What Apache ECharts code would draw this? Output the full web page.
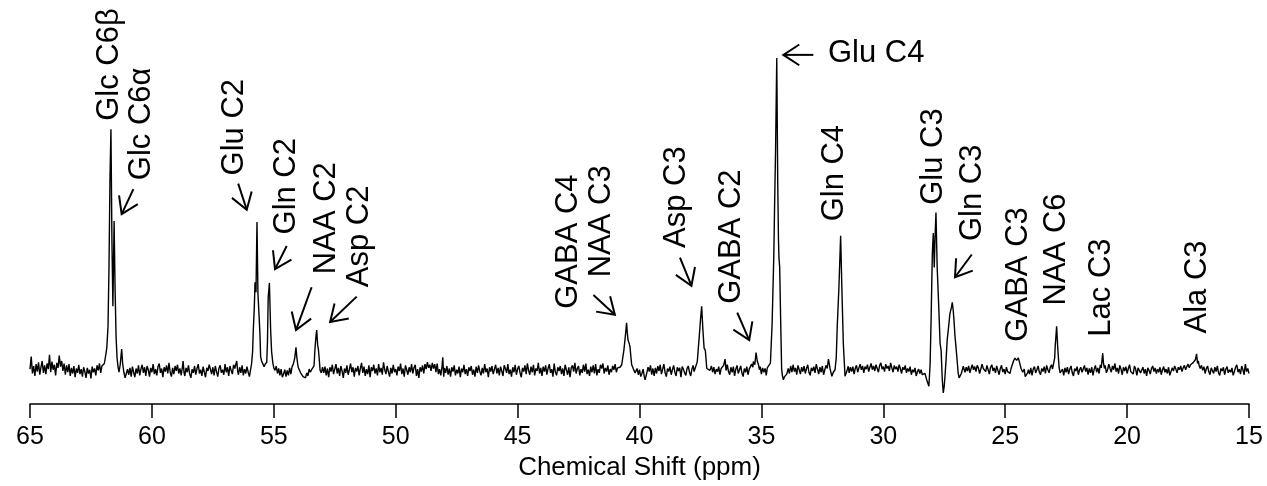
<!DOCTYPE html>
<html>
<head>
<meta charset="utf-8">
<script src="https://cdn.jsdelivr.net/npm/echarts@6/dist/echarts.min.js"></script>
<style>
html,body{margin:0;padding:0;background:#fff;}
#chart{width:1267px;height:486px;}
</style>
</head>
<body>
<div id="chart"></div>
<script>
// ---- Spectrum data: [chemical shift (ppm), intensity (a.u., Glu C4 = 1000)] ----
const specGlc = [
[65.0,4],[64.95,44],[64.9,-10],[64.85,14],[64.8,-18],[64.75,20],[64.7,-4],[64.65,26],[64.6,-14],[64.55,10],
[64.5,30],[64.45,-8],[64.4,16],[64.35,-12],[64.3,22],[64.25,4],[64.2,50],[64.15,-6],[64.1,28],[64.05,2],
[64.0,18],[63.95,-16],[63.9,24],[63.85,8],[63.8,47],[63.75,12],[63.7,30],[63.65,-2],[63.6,22],[63.55,-14],
[63.5,16],[63.45,-6],[63.4,20],[63.35,-18],[63.3,8],[63.25,-10],[63.2,14],[63.15,-22],[63.1,6],[63.05,-8],
[63.0,18],[62.95,-12],[62.9,4],[62.85,-20],[62.8,10],[62.75,-4],[62.7,-24],[62.65,8],[62.6,-10],[62.55,2],
[62.5,-26],[62.45,12],[62.4,-6],[62.35,6],[62.3,-16],[62.25,16],[62.2,0],[62.15,22],[62.1,-8],[62.05,14],
[62.0,20],[61.95,22],[61.9,46],[61.85,72],[61.8,140],[61.76,330],[61.72,610],[61.68,772],[61.64,420],[61.6,205],
[61.55,478],[61.51,260],[61.47,110],[61.43,40],[61.39,12],[61.35,-6],[61.3,18],[61.24,68],[61.2,22],[61.15,-6],
[61.1,-24],[61.05,-10],[61.0,4]
];
const spec61to56 = [
[60.95,-14],[60.9,8],[60.85,-20],[60.8,12],[60.75,-6],[60.7,-22],[60.65,6],[60.6,-10],[60.55,16],[60.5,-16],
[60.45,4],[60.4,18],[60.35,-8],[60.3,10],[60.25,-18],[60.2,14],[60.15,2],[60.1,-20],[60.05,8],[60.0,-6],
[59.95,20],[59.9,-12],[59.85,4],[59.8,-16],[59.75,12],[59.7,22],[59.65,-8],[59.6,6],[59.55,-22],[59.5,10],
[59.45,-4],[59.4,16],[59.35,-10],[59.3,24],[59.25,-6],[59.2,-20],[59.15,8],[59.1,-12],[59.05,14],[59.0,-2],
[58.95,18],[58.9,-10],[58.85,6],[58.8,-16],[58.75,10],[58.72,30],[58.68,-8],[58.65,-18],[58.6,8],[58.55,-6],
[58.5,16],[58.45,-12],[58.4,-24],[58.35,4],[58.3,-8],[58.25,14],[58.2,-14],[58.15,6],[58.1,20],[58.05,-10],
[58.0,2],[57.95,-18],[57.9,12],[57.85,-6],[57.8,-22],[57.75,8],[57.7,-2],[57.65,18],[57.6,4],[57.55,-12],
[57.5,10],[57.45,-16],[57.4,14],[57.35,-4],[57.3,-20],[57.25,6],[57.2,16],[57.15,-8],[57.1,2],[57.05,-14],
[57.0,20],[56.95,-6],[56.9,10],[56.85,-18],[56.8,14],[56.75,0],[56.7,-12],[56.65,18],[56.6,6],[56.55,22],
[56.52,30],[56.48,-4],[56.45,-14],[56.4,10],[56.35,-8],[56.3,16],[56.25,-16],[56.2,4],[56.15,-10],[56.1,12],
[56.05,-6],[56.0,-20]
];
const specGluGlnNaaAsp = [
[55.95,-20],[55.91,22],[55.87,60],[55.84,130],[55.8,200],[55.77,282],[55.73,250],[55.69,475],[55.65,245],[55.61,250],
[55.57,120],[55.54,44],[55.5,30],[55.45,36],[55.4,12],[55.36,19],[55.32,14],[55.29,26],[55.26,90],[55.23,234],
[55.18,280],[55.13,130],[55.09,60],[55.04,24],[55.0,8],[54.95,0],[54.9,14],[54.85,-10],[54.8,6],[54.75,-16],
[54.7,4],[54.65,-22],[54.6,-12],[54.55,2],[54.5,-20],[54.45,0],[54.4,-16],[54.35,8],[54.3,-12],[54.25,12],
[54.2,20],[54.14,40],[54.11,60],[54.09,74],[54.06,45],[54.02,20],[54.0,10],[53.95,16],[53.9,-8],[53.85,-2],
[53.8,-20],[53.75,-14],[53.7,-24],[53.65,-8],[53.6,-18],[53.55,4],[53.5,-6],[53.45,2],[53.4,-4],[53.35,14],
[53.31,70],[53.27,110],[53.24,129],[53.2,80],[53.17,67],[53.13,30],[53.1,0],[53.05,-8],[53.0,10]
];
const spec53to41 = [
[52.95,-8],[52.9,12],[52.85,-16],[52.8,6],[52.75,-22],[52.7,10],[52.65,-4],[52.6,18],[52.55,-12],[52.5,4],
[52.45,20],[52.4,-10],[52.35,8],[52.3,-18],[52.25,14],[52.2,-2],[52.15,-24],[52.1,6],[52.05,-8],[52.0,16],
[51.95,-14],[51.9,2],[51.85,22],[51.8,-6],[51.75,10],[51.7,-20],[51.65,8],[51.6,-4],[51.55,14],[51.5,-16],
[51.45,6],[51.4,24],[51.35,-8],[51.3,12],[51.25,-18],[51.2,4],[51.15,-12],[51.1,16],[51.05,-22],[51.0,10],
[50.95,-2],[50.9,18],[50.85,-10],[50.8,6],[50.75,-16],[50.7,20],[50.65,-6],[50.6,8],[50.55,-14],[50.5,26],
[50.45,2],[50.4,-12],[50.35,14],[50.3,-4],[50.25,-20],[50.2,8],[50.15,-10],[50.1,18],[50.05,-6],[50.0,4],
[49.95,-16],[49.9,12],[49.85,-2],[49.8,22],[49.75,-12],[49.7,6],[49.65,-20],[49.6,16],[49.55,2],[49.5,-14],
[49.45,10],[49.4,-6],[49.35,20],[49.3,-10],[49.25,8],[49.2,18],[49.15,-18],[49.1,4],[49.05,-24],[49.0,10],
[48.95,-4],[48.9,16],[48.85,-10],[48.8,20],[48.75,4],[48.7,26],[48.65,8],[48.6,18],[48.55,-2],[48.5,24],
[48.45,6],[48.4,20],[48.35,-6],[48.3,22],[48.25,-12],[48.2,4],[48.15,-16],[48.1,12],[48.07,42],[48.03,-20],
[48.0,8],[47.95,-8],[47.9,14],[47.85,-14],[47.8,6],[47.75,-20],[47.7,10],[47.65,-4],[47.6,16],[47.55,-16],
[47.5,2],[47.45,-10],[47.4,12],[47.35,-22],[47.3,6],[47.25,-6],[47.2,18],[47.15,-12],[47.1,4],[47.05,-18],
[47.0,10],[46.95,-2],[46.9,14],[46.85,-14],[46.8,2],[46.75,-20],[46.7,12],[46.65,-8],[46.6,16],[46.55,-4],
[46.5,-16],[46.45,8],[46.4,-10],[46.35,20],[46.3,-6],[46.25,6],[46.2,-22],[46.15,10],[46.1,-4],[46.05,14],
[46.0,-12],[45.95,4],[45.9,18],[45.85,-10],[45.8,8],[45.75,-16],[45.7,12],[45.65,-2],[45.6,-18],[45.55,16],
[45.5,6],[45.45,-8],[45.4,20],[45.35,-12],[45.3,2],[45.25,-20],[45.2,10],[45.15,-6],[45.1,18],[45.05,-14],
[45.0,4],[44.95,14],[44.9,-8],[44.85,-22],[44.8,8],[44.75,-4],[44.7,16],[44.65,-12],[44.6,22],[44.55,0],
[44.5,-14],[44.45,12],[44.4,-6],[44.35,18],[44.3,-16],[44.25,6],[44.2,-2],[44.15,24],[44.1,-10],[44.05,8],
[44.0,-18],[43.95,12],[43.9,-4],[43.85,16],[43.8,-14],[43.75,6],[43.7,20],[43.65,-8],[43.6,4],[43.55,-20],
[43.5,22],[43.45,-6],[43.4,-16],[43.35,10],[43.3,-2],[43.25,14],[43.2,-12],[43.15,6],[43.1,-18],[43.05,18],
[43.0,2],[42.95,-14],[42.9,10],[42.85,-22],[42.8,8],[42.75,16],[42.7,-4],[42.65,24],[42.6,-10],[42.55,6],
[42.5,14],[42.45,-16],[42.4,4],[42.35,-8],[42.3,18],[42.25,-4],[42.2,22],[42.15,-12],[42.1,2],[42.05,-18],
[42.0,12],[41.95,-6],[41.9,16],[41.85,-10],[41.8,20],[41.75,-16],[41.7,4],[41.65,-8],[41.6,18],[41.55,6],
[41.5,22],[41.45,-10],[41.4,8],[41.35,-4],[41.3,16],[41.25,-14],[41.2,4],[41.15,-6],[41.1,14],[41.05,2],
[41.0,20],[40.95,-6],[40.9,8]
];
const specGabaAspGlu = [
[40.87,2],[40.8,10],[40.73,18],[40.64,65],[40.58,110],[40.53,152],[40.5,120],[40.47,97],[40.43,88],[40.39,76],
[40.35,40],[40.32,18],[40.25,4],[40.18,-8],[40.1,6],[40.05,-14],[40.0,2],[39.95,-20],[39.9,-10],[39.85,4],
[39.8,-22],[39.77,-30],[39.7,-8],[39.65,10],[39.6,-4],[39.55,16],[39.5,-14],[39.45,6],[39.4,-18],[39.35,8],
[39.3,-10],[39.25,14],[39.2,-2],[39.15,18],[39.1,-12],[39.05,4],[39.0,20],[38.95,-8],[38.9,-20],[38.85,6],
[38.8,-4],[38.75,12],[38.7,-14],[38.65,2],[38.6,16],[38.55,-6],[38.5,-18],[38.45,10],[38.4,-2],[38.35,8],
[38.3,-22],[38.25,12],[38.2,4],[38.15,-8],[38.1,-16],[38.05,6],[38.0,14],[37.95,-6],[37.9,-18],[37.85,4],
[37.8,16],[37.76,-4],[37.72,2],[37.63,28],[37.55,108],[37.5,160],[37.45,205],[37.4,130],[37.35,71],[37.3,64],
[37.24,6],[37.18,10],[37.11,0],[37.05,14],[37.0,-6],[36.95,10],[36.9,-12],[36.85,4],[36.8,-4],[36.75,12],
[36.7,-14],[36.65,6],[36.6,2],[36.55,16],[36.49,36],[36.45,0],[36.4,18],[36.35,-4],[36.3,-14],[36.25,10],
[36.2,-6],[36.15,12],[36.1,-18],[36.05,4],[36.0,16],[35.95,-10],[35.9,2],[35.85,14],[35.8,-8],[35.75,-20],
[35.7,6],[35.65,-6],[35.6,12],[35.55,-14],[35.5,4],[35.45,8],[35.4,20],[35.35,10],[35.33,28],[35.27,18],
[35.22,57],[35.17,30],[35.12,18],[35.08,2],[35.05,12],[35.0,-12],[34.95,8],[34.9,-6],[34.85,6],[34.8,-16],
[34.76,8],[34.72,2],[34.63,23],[34.56,150],[34.49,371],[34.46,521],[34.42,700],[34.37,1000],[34.33,600],[34.3,420],
[34.28,360],[34.25,330],[34.21,160],[34.17,5],[34.14,-16],[34.1,-30],[34.05,-20],[33.96,-12]
];
const specGlnGlu = [
[33.9,6],[33.85,-10],[33.8,14],[33.75,-6],[33.7,18],[33.65,-4],[33.6,8],[33.55,-14],[33.5,16],[33.45,2],
[33.4,-12],[33.35,10],[33.3,-4],[33.25,14],[33.2,-10],[33.15,6],[33.1,18],[33.05,-6],[33.0,-16],[32.95,8],
[32.9,-2],[32.85,12],[32.8,-8],[32.75,20],[32.7,4],[32.65,-12],[32.6,10],[32.55,-6],[32.5,14],[32.45,-14],
[32.4,2],[32.35,16],[32.3,6],[32.25,36],[32.18,4],[32.11,-19],[32.05,-6],[31.98,2],[31.93,40],[31.89,139],
[31.82,266],[31.75,431],[31.69,234],[31.64,86],[31.57,-19],[31.5,-4],[31.44,13],[31.4,-8],[31.35,10],[31.3,-4],
[31.25,12],[31.2,-12],[31.15,6],[31.1,16],[31.05,-6],[31.0,8],[30.95,20],[30.9,2],[30.85,14],[30.8,-8],
[30.75,12],[30.7,4],[30.65,18],[30.6,-4],[30.55,10],[30.5,22],[30.45,2],[30.4,14],[30.35,-2],[30.3,18],
[30.25,6],[30.2,-6],[30.15,16],[30.1,24],[30.05,4],[30.0,12],[29.95,-4],[29.9,20],[29.85,6],[29.8,14],
[29.75,-2],[29.7,24],[29.65,8],[29.6,-6],[29.55,16],[29.5,4],[29.45,12],[29.4,-4],[29.35,18],[29.3,6],
[29.25,-10],[29.2,10],[29.15,2],[29.1,16],[29.05,-8],[29.0,6],[28.95,-4],[28.9,12],[28.85,-14],[28.8,2],
[28.75,-6],[28.7,8],[28.65,-18],[28.6,-4],[28.55,4],[28.5,-10],[28.45,2],[28.4,-14],[28.36,-19],[28.29,-10],
[28.22,-30],[28.13,-51],[28.08,20],[28.04,160],[27.99,371],[27.95,440],[27.91,329],[27.88,420],[27.84,505],[27.79,329],
[27.73,213],[27.67,86],[27.63,65],[27.58,-30],[27.54,-72],[27.5,-50],[27.47,-19],[27.42,40],[27.38,97],[27.32,140],
[27.27,181],[27.21,200],[27.17,218],[27.13,190],[27.1,160],[27.06,110],[27.02,76],[26.97,30],[26.93,-8],[26.89,-24],
[26.85,-30],[26.8,-10],[26.72,13]
];
const spec27to15 = [
[26.65,-6],[26.6,10],[26.55,-2],[26.5,14],[26.45,-8],[26.4,6],[26.35,18],[26.3,2],[26.25,12],[26.2,-4],
[26.15,16],[26.1,8],[26.05,-10],[26.0,4],[25.95,20],[25.9,6],[25.85,12],[25.8,-4],[25.75,16],[25.7,2],
[25.65,-12],[25.6,10],[25.55,18],[25.5,-2],[25.45,8],[25.4,-8],[25.35,14],[25.3,0],[25.25,-14],[25.2,6],
[25.15,16],[25.1,-6],[25.05,4],[25.0,-12],[24.95,10],[24.9,-4],[24.85,2],[24.8,-10],[24.76,6],[24.73,13],
[24.66,30],[24.6,39],[24.53,32],[24.46,40],[24.42,28],[24.39,22],[24.35,6],[24.32,10],[24.28,-6],[24.25,-10],
[24.22,4],[24.18,-20],[24.12,-24],[24.08,-8],[24.05,2],[24.0,-12],[23.95,8],[23.9,-16],[23.85,4],[23.8,12],
[23.75,-8],[23.7,2],[23.65,14],[23.6,-6],[23.55,-14],[23.5,6],[23.45,-4],[23.4,12],[23.35,-10],[23.3,16],
[23.25,2],[23.2,-8],[23.15,10],[23.1,18],[23.06,4],[23.03,2],[22.97,40],[22.95,76],[22.89,141],[22.85,80],
[22.83,55],[22.79,10],[22.75,-8],[22.7,-14],[22.65,4],[22.6,-16],[22.55,8],[22.5,-6],[22.45,10],[22.4,-12],
[22.35,4],[22.3,14],[22.25,-8],[22.2,-18],[22.15,6],[22.1,-2],[22.05,12],[22.0,-14],[21.95,2],[21.9,10],
[21.85,-6],[21.8,4],[21.75,16],[21.7,-4],[21.65,8],[21.6,-14],[21.55,6],[21.5,-8],[21.45,10],[21.4,-16],
[21.35,4],[21.3,16],[21.25,-6],[21.2,8],[21.15,-10],[21.1,18],[21.06,8],[21.02,40],[21.0,55],[20.97,24],
[20.93,6],[20.9,16],[20.85,-8],[20.8,2],[20.75,20],[20.7,6],[20.65,-6],[20.6,14],[20.55,2],[20.5,22],
[20.45,-4],[20.4,8],[20.35,-10],[20.3,16],[20.25,4],[20.2,-14],[20.15,10],[20.1,-2],[20.05,12],[20.0,-10],
[19.95,6],[19.9,18],[19.85,-4],[19.8,2],[19.75,-12],[19.7,14],[19.65,4],[19.6,-16],[19.55,8],[19.5,12],
[19.45,-8],[19.4,-2],[19.35,10],[19.3,-10],[19.25,4],[19.2,-18],[19.15,8],[19.1,0],[19.05,-12],[19.0,6],
[18.95,14],[18.9,-4],[18.85,8],[18.8,-10],[18.75,4],[18.7,-6],[18.65,10],[18.6,-14],[18.55,2],[18.5,12],
[18.45,-6],[18.4,4],[18.35,-10],[18.3,10],[18.25,-16],[18.2,-4],[18.15,8],[18.1,-2],[18.05,14],[18.0,4],
[17.95,-8],[17.9,10],[17.85,2],[17.8,14],[17.75,-4],[17.7,8],[17.65,16],[17.6,2],[17.55,12],[17.5,20],
[17.45,8],[17.4,18],[17.35,14],[17.3,24],[17.25,26],[17.2,34],[17.15,53],[17.11,22],[17.08,30],[17.04,14],
[17.0,6],[16.95,16],[16.9,0],[16.85,12],[16.8,-10],[16.75,6],[16.7,14],[16.65,-4],[16.6,-14],[16.55,8],
[16.5,2],[16.45,-10],[16.4,10],[16.35,-4],[16.3,14],[16.25,-8],[16.2,-16],[16.15,6],[16.1,-2],[16.05,10],
[16.0,-14],[15.95,4],[15.9,12],[15.85,-8],[15.8,2],[15.75,-6],[15.7,8],[15.65,-16],[15.6,-4],[15.55,10],
[15.5,18],[15.45,-6],[15.4,4],[15.35,-12],[15.3,14],[15.25,2],[15.2,-14],[15.15,20],[15.1,-4],[15.05,6],
[15.0,-10]
];

// ---- Peak labels: [text, ppm, intensity at text start, horizontal?] ----
const peakLabels = [
['Glc C6\u03b2', 61.75, 799, false],
['Glc C6\u03b1', 60.43, 609, false],
['Glu C2', 56.62, 624, false],
['Gln C2', 54.48, 435, false],
['NAA C2', 52.84, 308, false],
['Asp C2', 51.47, 266, false],
['GABA C4', 42.93, 197, false],
['NAA C3', 41.56, 298, false],
['Asp C3', 38.48, 392, false],
['GABA C2', 36.23, 213, false],
['Glu C4', 32.27, 1013, true],
['Gln C4', 31.99, 477, false],
['Glu C3', 27.95, 530, false],
['Gln C3', 26.34, 414, false],
['GABA C3', 24.47, 92, false],
['NAA C6', 22.90, 208, false],
['Lac C3', 21.05, 108, false],
['Ala C3', 17.11, 118, false]
];
// ---- Arrows: [tail ppm, tail intensity, tip ppm, tip intensity] ----
const arrows = [
[60.76, 580, 61.24, 500],
[56.46, 598, 56.11, 514],
[54.47, 398, 54.95, 324],
[53.45, 266, 54.09, 129],
[51.60, 236, 52.69, 155],
[41.89, 241, 41.01, 178],
[38.34, 361, 37.87, 271],
[35.99, 185, 35.50, 97],
[32.87, 1010, 34.10, 1010],
[26.37, 371, 27.06, 298]
];
const xTicks = {min: 15, max: 65, interval: 5};
const axisTitle = 'Chemical Shift (ppm)';

const spectrum = [].concat(specGlc, spec61to56, specGluGlnNaaAsp, spec53to41, specGabaAspGlu, specGlnGlu, spec27to15);

const FONT = "'Liberation Sans', Arial, Helvetica, sans-serif";
const chart = echarts.init(document.getElementById('chart'), null, {renderer: 'canvas'});
chart.setOption({
  animation: false,
  backgroundColor: '#ffffff',
  grid: {left: 30, right: 18, top: 58, bottom: 78, containLabel: false},
  xAxis: {
    type: 'value', inverse: true,
    min: xTicks.min, max: xTicks.max, interval: xTicks.interval,
    name: axisTitle, nameLocation: 'middle', nameGap: 47,
    nameTextStyle: {color: '#000', fontSize: 26, fontFamily: FONT},
    axisLine: {show: true, onZero: false, lineStyle: {color: '#000', width: 1.5}},
    axisTick: {show: true, inside: false, length: 14, lineStyle: {color: '#000', width: 1.5}},
    axisLabel: {color: '#000', fontSize: 25, fontFamily: FONT, margin: 21},
    splitLine: {show: false}
  },
  yAxis: {type: 'value', min: -108, max: 1000, show: false, splitLine: {show: false}},
  series: [
    {
      type: 'line', data: spectrum, showSymbol: false, symbol: 'none',
      lineStyle: {color: '#000', width: 1.4}, z: 2
    },
    {
      type: 'custom', coordinateSystem: 'cartesian2d', clip: false, z: 3,
      data: peakLabels.map(l => [l[1], l[2]]),
      renderItem: function (params, api) {
        const p = api.coord([api.value(0), api.value(1)]);
        const lab = peakLabels[params.dataIndex];
        return {
          type: 'text', x: p[0], y: p[1], rotation: lab[3] ? 0 : Math.PI / 2,
          style: {text: lab[0], fill: '#000', font: '31px ' + FONT, align: 'left', verticalAlign: 'middle'}
        };
      }
    },
    {
      type: 'custom', coordinateSystem: 'cartesian2d', clip: false, z: 3,
      data: arrows,
      renderItem: function (params, api) {
        const t = api.coord([api.value(0), api.value(1)]);
        const h = api.coord([api.value(2), api.value(3)]);
        const ang = Math.atan2(t[1] - h[1], t[0] - h[0]);
        const L = 19, a = 33 * Math.PI / 180;
        const l1 = [h[0] + L * Math.cos(ang + a), h[1] + L * Math.sin(ang + a)];
        const l2 = [h[0] + L * Math.cos(ang - a), h[1] + L * Math.sin(ang - a)];
        const st = {stroke: '#000', lineWidth: 2, fill: null};
        return {
          type: 'group',
          children: [
            {type: 'polyline', shape: {points: [t, h]}, style: st},
            {type: 'polyline', shape: {points: [l1, h, l2]}, style: st}
          ]
        };
      }
    }
  ]
});
</script>
</body>
</html>
